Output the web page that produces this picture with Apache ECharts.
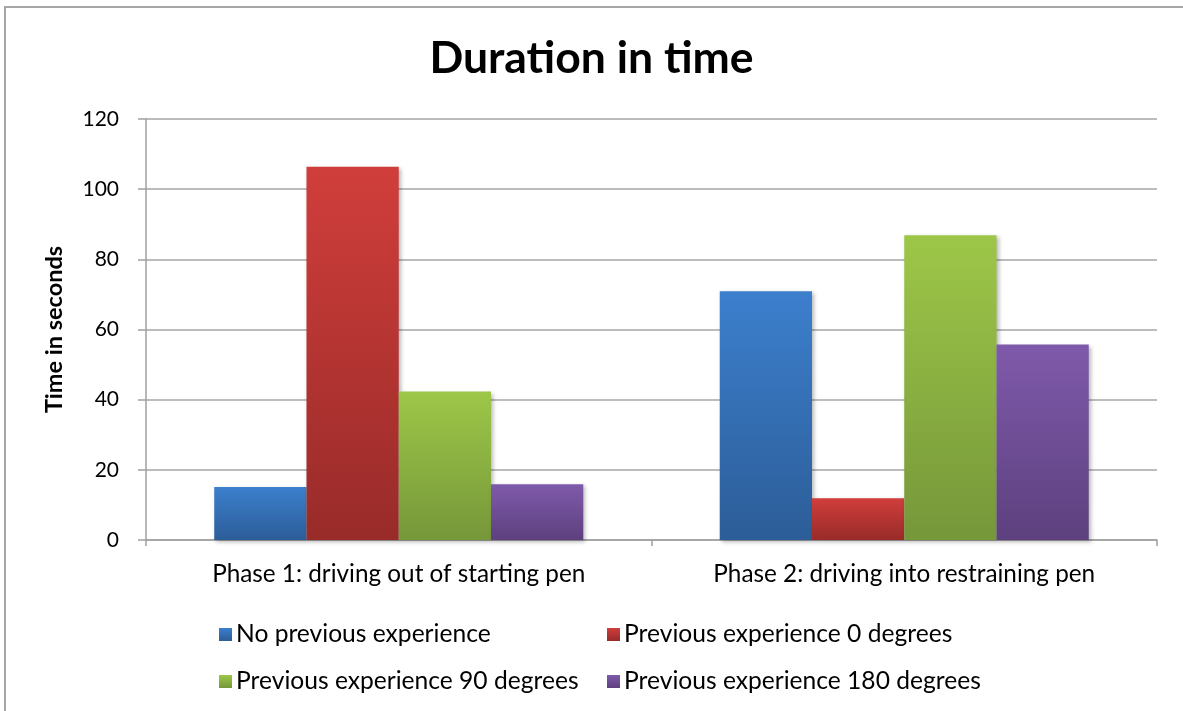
<!DOCTYPE html>
<html>
<head>
<meta charset="utf-8">
<style>
  html, body { margin: 0; padding: 0; background: #ffffff; }
  #chart { width: 1183px; height: 711px; }
</style>
<script src="https://cdn.jsdelivr.net/npm/echarts@6/dist/echarts.min.js"></script>
</head>
<body>
<div id="chart"></div>
<script>
// Phases on the category axis
const phases = [
  'Phase 1: driving out of starting pen',
  'Phase 2: driving into restraining pen'
];

// Mean duration per group, in seconds
const noExperience = [15.1, 70.9];
const experience0 = [106.4, 11.9];
const experience90 = [42.3, 86.9];
const experience180 = [15.9, 55.7];

const groupNames = [
  'No previous experience',
  'Previous experience 0 degrees',
  'Previous experience 90 degrees',
  'Previous experience 180 degrees'
];

const yTicks = [0, 20, 40, 60, 80, 100, 120];

const FONT = 'Lato, "Open Sans", sans-serif';

function shade(top, bottom) {
  return new echarts.graphic.LinearGradient(0, 0, 0, 1, [
    { offset: 0, color: top },
    { offset: 1, color: bottom }
  ]);
}

const palette = [
  shade('#3c7fcd', '#2c5d98'),
  shade('#d03e3b', '#982b29'),
  shade('#9dc748', '#76973a'),
  shade('#7f5aab', '#5d407e')
];

const groupValues = [noExperience, experience0, experience90, experience180];

const series = groupNames.map((name, i) => ({
  name: name,
  type: 'bar',
  data: groupValues[i],
  barGap: '0%',
  barCategoryGap: '27%',
  itemStyle: {
    color: palette[i],
    shadowColor: 'rgba(0,0,0,0.28)',
    shadowBlur: 4,
    shadowOffsetX: 2,
    shadowOffsetY: 2
  }
}));

// One legend block per entry so the entries sit in a two-column layout
const legendSpots = [
  { left: 214, top: 617 },
  { left: 602, top: 617 },
  { left: 214, top: 664 },
  { left: 602, top: 664 }
];
const legends = groupNames.map((name, i) => ({
  data: [name],
  left: legendSpots[i].left,
  top: legendSpots[i].top,
  itemWidth: 13,
  itemHeight: 13,
  itemGap: 8,
  icon: 'rect',
  selectedMode: false,
  textStyle: { fontFamily: FONT, fontSize: 24.6, color: '#000', padding: [0, 0, 0, -1] }
}));

const chart = echarts.init(document.getElementById('chart'), null, { renderer: 'canvas' });

chart.setOption({
  backgroundColor: '#ffffff',
  animation: false,
  title: {
    text: 'Duration in time',
    left: 'center',
    top: 31,
    textStyle: { fontFamily: FONT, fontSize: 44.5, fontWeight: 'bold', color: '#000' }
  },
  graphic: [{
    type: 'rect',
    shape: { x: 5, y: 7, width: 1200, height: 720 },
    style: { fill: 'none', stroke: '#a6a6a6', lineWidth: 2 },
    silent: true,
    z: 100
  }],
  legend: legends,
  grid: { left: 146, right: 26, top: 119, bottom: 171, containLabel: false },
  xAxis: {
    type: 'category',
    data: phases,
    axisLine: { lineStyle: { color: '#a0a0a0', width: 1.5 } },
    axisTick: { show: true, length: 6, lineStyle: { color: '#a0a0a0', width: 1.5 } },
    axisLabel: { margin: 22, fontFamily: FONT, fontSize: 24.3, color: '#000' }
  },
  yAxis: {
    type: 'value',
    min: yTicks[0],
    max: yTicks[yTicks.length - 1],
    interval: yTicks[1] - yTicks[0],
    name: 'Time in seconds',
    nameLocation: 'middle',
    nameRotate: 90,
    nameGap: 80,
    nameTextStyle: { fontFamily: FONT, fontSize: 23.5, fontWeight: 'bold', color: '#000' },
    axisLine: { show: true, lineStyle: { color: '#a0a0a0', width: 1.5 } },
    axisTick: { show: true, length: 8, lineStyle: { color: '#a0a0a0', width: 1.5 } },
    axisLabel: { margin: 27, fontFamily: FONT, fontSize: 21, color: '#000' },
    splitLine: { lineStyle: { color: '#a6a6a6', width: 1.5 } }
  },
  series: series
});
</script>
</body>
</html>
